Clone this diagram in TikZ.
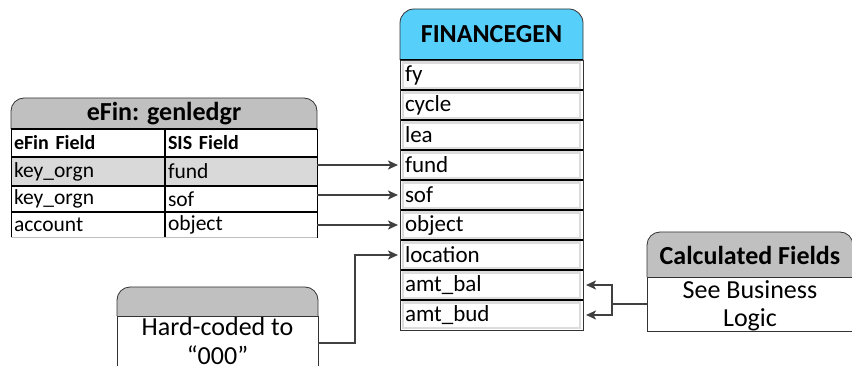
\documentclass[tikz,border=0pt]{standalone}
\usepackage{fontspec}
\setmainfont{Carlito}
\usetikzlibrary{arrows.meta}
\definecolor{hdrgray}{HTML}{C0C0C0}
\definecolor{rowgray}{HTML}{D9D9D9}
\definecolor{finblue}{HTML}{57CFFB}
\definecolor{conncol}{HTML}{404040}
\definecolor{cellgray}{HTML}{DCDCDC}
\begin{document}
\begin{tikzpicture}[x=1pt,y=-1pt,
  hdrtext/.style={font=\fontsize{26pt}{28pt}\selectfont\bfseries, inner sep=0pt},
  bodytext/.style={font=\fontsize{26pt}{28.5pt}\selectfont, align=center, inner sep=0pt},
  finrow/.style={minimum width=183pt, minimum height=30pt, inner sep=0pt, outer sep=0pt,
     text width=173pt, align=left, font=\fontsize{23pt}{24pt}\selectfont},
  efhead/.style={minimum height=28pt, inner sep=0pt, outer sep=0pt, align=left,
     font=\fontsize{20pt}{22pt}\selectfont\bfseries},
  efcell/.style={inner sep=0pt, outer sep=0pt, align=left,
     font=\fontsize{21.5pt}{23pt}\selectfont},
  tline/.style={line width=2pt, black},
  connline/.style={draw=conncol, line width=2pt},
  conn/.style={connline, -{Stealth[length=10pt,width=9pt,inset=2.5pt]}}
]
\useasboundingbox (0,0) rectangle (852,366);
\clip (0,0) rectangle (852,366);

% ---------- FINANCEGEN ----------
\begin{scope}
  \clip (390,0) rectangle (600,60);
  \filldraw[fill=finblue, draw=black!80, line width=0.8pt, rounded corners=14pt] (400,9) rectangle (583,90);
\end{scope}
\node[hdrtext] (finhdr) at (491.5,34.5) {FINANCEGEN};
\foreach \n/\t [count=\i from 0] in {fy/fy, cycle/cycle, lea/lea, fund/fund, sof/sof, object/object, location/location, amtbal/amt\_bal, amtbud/amt\_bud} {
  \node[finrow] (\n) at (491.5,{75+30*\i}) {\t};
  \draw[cellgray, line width=2.5pt] ([shift={(3,2.5)}]\n.north west) rectangle ([shift={(-3,-2)}]\n.south east);
  \draw[black, line width=1.5pt] (\n.north west) -- (\n.north east);
}
\draw[black!80, line width=0.8pt] (fy.north west) rectangle (amtbud.south east);

% ---------- eFin: genledgr ----------
\begin{scope}
  \clip (0,90) rectangle (330,129);
  \filldraw[fill=hdrgray, draw=black!80, line width=0.8pt, rounded corners=13pt] (11,98) rectangle (317,160);
\end{scope}
\node[hdrtext] (efinhdr) at (164,114) {eFin: genledgr};
\fill[rowgray] (11,157) rectangle (317,186);
\node[efhead, text width=148pt, minimum width=154pt] (h1) at (88,143) {eFin Field};
\node[efhead, text width=146pt, minimum width=152pt] (h2) at (241,143) {SIS Field};
\node[efcell, text width=148pt, minimum width=154pt, minimum height=29pt] (r1a) at (88,171.5) {key\_orgn};
\node[efcell, text width=146pt, minimum width=152pt, minimum height=29pt] (r1b) at (241,171.5) {fund};
\node[efcell, text width=148pt, minimum width=154pt, minimum height=26pt] (r2a) at (88,199) {key\_orgn};
\node[efcell, text width=146pt, minimum width=152pt, minimum height=26pt] (r2b) at (241,199) {sof};
\node[efcell, text width=148pt, minimum width=154pt, minimum height=26pt] (r3a) at (88,225) {account};
\node[efcell, text width=146pt, minimum width=152pt, minimum height=26pt] (r3b) at (241,225) {object};
\draw[black, line width=1.5pt] (h1.north west) -- (h2.north east);
\draw[tline] (r1a.north west) -- (r1b.north east);
\draw[tline] (r2a.north west) -- (r2b.north east);
\draw[tline] (r3a.north west) -- (r3b.north east);
\draw[tline] (h2.north west) -- (r3b.south west);
\draw[black, line width=1pt] (h1.north west) -- (r3a.south west);
\draw[black, line width=1pt] (h2.north east) -- (r3b.south east);
\draw[black!25, line width=1pt] (r3a.south west) -- (r3b.south east);

% ---------- Hard-coded box ----------
\begin{scope}
  \clip (100,280) rectangle (330,316);
  \filldraw[fill=hdrgray, draw=black!80, line width=0.8pt, rounded corners=13pt] (117,287) rectangle (318,340);
\end{scope}
\node[draw=black!80, line width=0.8pt, minimum width=201pt, minimum height=90pt, inner sep=0pt, outer sep=0pt] (hc) at (217.5,361) {};
\node[bodytext] (hctext) at (217.5,341) {Hard-coded to\\“000”};
\coordinate (hcy) at (0,343);

% ---------- Calculated Fields ----------
\begin{scope}
  \clip (630,225) rectangle (870,277);
  \filldraw[fill=hdrgray, draw=black!80, line width=0.8pt, rounded corners=13pt] (647,232) rectangle (853,300);
\end{scope}
\node[hdrtext] (calchdr) at (750,255) {Calculated Fields};
\node[draw=black!80, line width=0.8pt, minimum width=206pt, minimum height=54pt, inner sep=0pt, outer sep=0pt] (calc) at (750,304) {};
\node[bodytext] (calctext) at (750,306) {See Business\\Logic};
\coordinate (split) at (612,304);

% ---------- connectors ----------
\draw[conn] (fund.west -| r1b.east) -- ([xshift=-2pt]fund.west);
\draw[conn] (sof.west -| r2b.east) -- ([xshift=-2pt]sof.west);
\draw[conn] (object.west -| r3b.east) -- ([xshift=-2pt]object.west);
\draw[conn] (hc.east |- hcy) -- ++(37,0) |- ([xshift=-2pt]location.west);
\draw[connline] (calc.west) -- (split);
\draw[conn] (split) |- ([xshift=3pt]amtbal.east);
\draw[conn] (split) |- ([xshift=3pt]amtbud.east);
\end{tikzpicture}
\end{document}
